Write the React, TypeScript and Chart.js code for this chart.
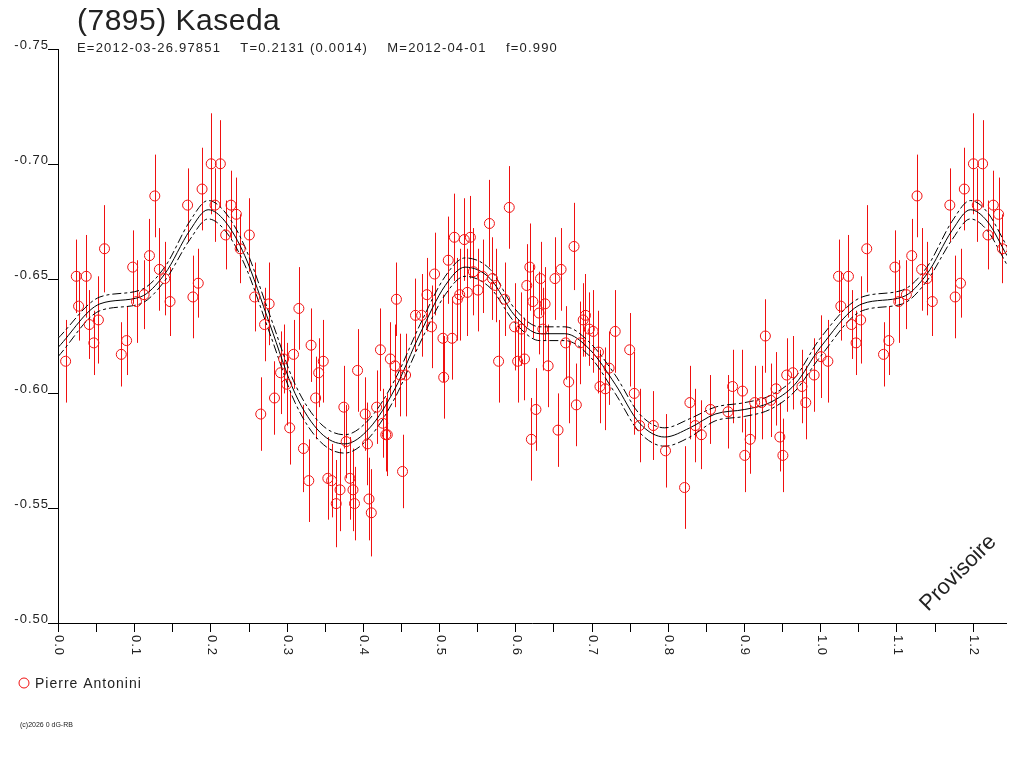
import React, { useEffect, useRef } from "react";
import { Chart, registerables } from "chart.js";
Chart.register(...registerables);

const title = "(7895) Kaseda";
const subtitle = "E=2012-03-26.97851    T=0.2131 (0.0014)    M=2012-04-01    f=0.990";
const observer = "Pierre Antonini";
const xTicks = [0, 0.1, 0.2, 0.3, 0.4, 0.5, 0.6, 0.7, 0.8, 0.9, 1.0, 1.1, 1.2];
const yTicks = [-0.75, -0.7, -0.65, -0.6, -0.55, -0.5];

// [phase, magnitude, error]
const obs: number[][] = [
  [0.010,-0.614,0.018],[0.024,-0.651,0.016],[0.027,-0.638,0.015],[0.037,-0.651,0.018],[0.041,-0.630,0.015],
  [0.047,-0.622,0.014],[0.053,-0.632,0.019],[0.061,-0.663,0.019],[0.083,-0.617,0.014],[0.090,-0.623,0.015],
  [0.098,-0.655,0.016],[0.103,-0.640,0.018],[0.113,-0.643,0.015],[0.120,-0.660,0.016],[0.127,-0.686,0.018],
  [0.133,-0.654,0.018],[0.140,-0.650,0.016],[0.147,-0.640,0.015],[0.170,-0.682,0.016],[0.177,-0.642,0.018],
  [0.184,-0.648,0.015],[0.189,-0.689,0.018],[0.201,-0.700,0.022],[0.206,-0.682,0.016],[0.213,-0.700,0.019],
  [0.220,-0.669,0.015],[0.227,-0.682,0.015],[0.234,-0.678,0.016],[0.239,-0.663,0.015],[0.251,-0.669,0.016],
  [0.258,-0.642,0.015],[0.266,-0.591,0.016],[0.271,-0.630,0.016],[0.277,-0.639,0.018],[0.284,-0.598,0.016],
  [0.292,-0.609,0.018],[0.296,-0.615,0.015],[0.300,-0.604,0.018],[0.304,-0.585,0.016],[0.309,-0.617,0.015],
  [0.316,-0.637,0.018],[0.322,-0.576,0.019],[0.329,-0.562,0.018],[0.332,-0.621,0.016],[0.338,-0.598,0.018],
  [0.342,-0.609,0.015],[0.348,-0.614,0.018],[0.354,-0.563,0.018],[0.359,-0.562,0.016],[0.365,-0.552,0.019],
  [0.370,-0.558,0.018],[0.375,-0.594,0.018],[0.378,-0.579,0.016],[0.383,-0.563,0.018],[0.387,-0.558,0.018],
  [0.389,-0.552,0.016],[0.393,-0.610,0.018],[0.403,-0.591,0.016],[0.406,-0.578,0.018],[0.408,-0.554,0.018],
  [0.411,-0.548,0.019],[0.418,-0.594,0.016],[0.423,-0.619,0.018],[0.426,-0.587,0.015],[0.430,-0.582,0.016],
  [0.432,-0.582,0.018],[0.436,-0.615,0.016],[0.442,-0.612,0.018],[0.444,-0.641,0.016],[0.449,-0.608,0.018],
  [0.452,-0.566,0.016],[0.456,-0.608,0.018],[0.469,-0.634,0.016],[0.477,-0.634,0.018],[0.484,-0.643,0.016],
  [0.490,-0.629,0.018],[0.494,-0.652,0.018],[0.505,-0.624,0.019],[0.506,-0.607,0.018],[0.512,-0.658,0.019],
  [0.517,-0.624,0.018],[0.520,-0.668,0.019],[0.524,-0.641,0.018],[0.527,-0.643,0.020],[0.533,-0.667,0.018],
  [0.537,-0.644,0.019],[0.541,-0.668,0.018],[0.545,-0.653,0.019],[0.551,-0.645,0.018],[0.557,-0.651,0.016],
  [0.566,-0.674,0.019],[0.570,-0.650,0.018],[0.574,-0.647,0.016],[0.578,-0.614,0.018],[0.586,-0.641,0.016],
  [0.592,-0.681,0.018],[0.599,-0.629,0.019],[0.603,-0.614,0.018],[0.608,-0.628,0.016],[0.612,-0.615,0.018],
  [0.615,-0.647,0.018],[0.619,-0.655,0.019],[0.621,-0.580,0.018],[0.623,-0.640,0.016],[0.627,-0.593,0.018],
  [0.631,-0.635,0.018],[0.633,-0.650,0.016],[0.636,-0.628,0.018],[0.639,-0.639,0.016],[0.643,-0.612,0.018],
  [0.652,-0.650,0.018],[0.656,-0.584,0.016],[0.660,-0.654,0.018],[0.666,-0.622,0.016],[0.670,-0.605,0.018],
  [0.677,-0.664,0.019],[0.680,-0.595,0.018],[0.685,-0.622,0.018],[0.689,-0.632,0.016],[0.692,-0.634,0.018],
  [0.697,-0.628,0.016],[0.702,-0.627,0.018],[0.709,-0.618,0.018],[0.711,-0.603,0.016],[0.718,-0.602,0.018],
  [0.723,-0.611,0.016],[0.731,-0.627,0.018],[0.750,-0.619,0.016],[0.756,-0.600,0.018],[0.763,-0.586,0.016],
  [0.781,-0.586,0.015],[0.797,-0.575,0.016],[0.822,-0.559,0.018],[0.829,-0.596,0.016],[0.836,-0.586,0.016],
  [0.844,-0.582,0.015],[0.856,-0.593,0.015],[0.879,-0.592,0.016],[0.885,-0.603,0.016],[0.898,-0.601,0.018],
  [0.901,-0.573,0.016],[0.908,-0.580,0.015],[0.914,-0.596,0.016],[0.923,-0.596,0.016],[0.928,-0.625,0.016],
  [0.935,-0.597,0.016],[0.942,-0.602,0.016],[0.947,-0.581,0.015],[0.951,-0.573,0.016],[0.956,-0.608,0.016],
  [0.964,-0.609,0.016],[0.976,-0.603,0.016],[0.981,-0.596,0.016],[0.992,-0.608,0.016],[1.001,-0.616,0.018],
];

const curvePhase = [0,0.055,0.108,0.140,0.173,0.197,0.219,0.245,0.278,0.311,0.344,0.376,0.409,0.442,0.475,0.508,0.534,0.567,0.599,0.632,0.665,0.698,0.731,0.763,0.796,0.829,0.862,0.901,0.934,0.967,1.0,1.055,1.108,1.140,1.173,1.197,1.219,1.245];
const curveMag = [-0.620,-0.639,-0.642,-0.652,-0.671,-0.680,-0.675,-0.660,-0.630,-0.600,-0.583,-0.578,-0.585,-0.602,-0.626,-0.647,-0.655,-0.650,-0.634,-0.626,-0.626,-0.619,-0.604,-0.587,-0.581,-0.585,-0.591,-0.593,-0.596,-0.604,-0.620,-0.639,-0.642,-0.652,-0.671,-0.680,-0.675,-0.660];
const bandHalf = [0.004,0.003,0.003,0.003,0.004,0.004,0.004,0.004,0.004,0.004,0.004,0.004,0.004,0.004,0.004,0.004,0.004,0.004,0.003,0.003,0.003,0.003,0.004,0.004,0.004,0.004,0.003,0.003,0.003,0.003,0.004,0.003,0.003,0.003,0.004,0.004,0.004,0.004];

const RED = "#f01010";
const FONT = "'Liberation Sans', Arial, sans-serif";

export default function App() {
  const ref = useRef<HTMLCanvasElement>(null);
  useEffect(() => {
    document.body.style.margin = "0";
    const pts = obs.map(o => ({ x: o[0], y: o[1], e: o[2] }));
    obs.filter(o => o[0] < 0.25).forEach(o => pts.push({ x: o[0] + 1, y: o[1], e: o[2] }));
    const mk = (arr: number[]) => curvePhase.map((p, i) => ({ x: p, y: arr[i] }));
    const upper = curveMag.map((v, i) => v - bandHalf[i]);
    const lower = curveMag.map((v, i) => v + bandHalf[i]);
    const line = (data: any, dash: number[]) => ({
      type: "line" as const, data, borderColor: "#000", borderWidth: 1, borderDash: dash,
      pointRadius: 0, tension: 0.4, cubicInterpolationMode: "monotone" as const, fill: false,
    });
    const plugin = {
      id: "deco",
      beforeDatasetsDraw(c: any) {
        const ctx = c.ctx, xs = c.scales.x, ys = c.scales.y;
        ctx.save();
        ctx.beginPath(); ctx.rect(c.chartArea.left, c.chartArea.top, c.chartArea.right - c.chartArea.left, c.chartArea.bottom - c.chartArea.top); ctx.clip();
        ctx.strokeStyle = RED; ctx.lineWidth = 1;
        pts.forEach(p => {
          const x = Math.round(xs.getPixelForValue(p.x)) + 0.5;
          ctx.beginPath();
          ctx.moveTo(x, ys.getPixelForValue(p.y - p.e));
          ctx.lineTo(x, ys.getPixelForValue(p.y + p.e));
          ctx.stroke();
        });
        ctx.restore();
      },
      afterDraw(c: any) {
        const ctx = c.ctx, xs = c.scales.x, ys = c.scales.y, a = c.chartArea;
        ctx.save();
        ctx.strokeStyle = "#000"; ctx.lineWidth = 1; ctx.fillStyle = "#222";
        ctx.beginPath();
        ctx.moveTo(a.left + 0.5, a.top); ctx.lineTo(a.left + 0.5, a.bottom + 0.5); ctx.lineTo(a.right, a.bottom + 0.5);
        ctx.stroke();
        ctx.font = `13px ${FONT}`;
        (ctx as any).letterSpacing = "1px";
        yTicks.forEach(v => {
          const y = Math.round(ys.getPixelForValue(v)) + 0.5;
          ctx.beginPath(); ctx.moveTo(a.left - 10, y); ctx.lineTo(a.left, y); ctx.stroke();
          ctx.textAlign = "right"; ctx.textBaseline = "alphabetic";
          ctx.fillText(v.toFixed(2), a.left - 9, y - 1);
        });
        for (let v = 0; v <= 1.25; v += 0.05) {
          const x = Math.round(xs.getPixelForValue(v)) + 0.5;
          if (x > a.right + 1) break;
          ctx.beginPath(); ctx.moveTo(x, a.bottom); ctx.lineTo(x, a.bottom + 9); ctx.stroke();
        }
        xTicks.forEach(v => {
          const x = xs.getPixelForValue(v);
          ctx.save(); ctx.translate(x + 1, a.bottom + 12); ctx.rotate(Math.PI / 2);
          ctx.textAlign = "left"; ctx.textBaseline = "middle";
          ctx.fillText(v.toFixed(1), 0, 0); ctx.restore();
        });
        ctx.textAlign = "left"; ctx.textBaseline = "alphabetic";
        ctx.font = `13px ${FONT}`; (ctx as any).letterSpacing = "1.2px"; ctx.fillText(subtitle, 77, 52);
        (ctx as any).letterSpacing = "0.5px";
        ctx.font = `30px ${FONT}`; ctx.fillText(title, 77, 30);
        ctx.strokeStyle = RED; ctx.beginPath(); ctx.arc(24, 683, 5, 0, Math.PI * 2); ctx.stroke();
        (ctx as any).letterSpacing = "1px";
        ctx.font = `14px ${FONT}`; ctx.fillText(observer, 35, 688);
        (ctx as any).letterSpacing = "0px";
        ctx.font = `7px ${FONT}`; ctx.fillText("(c)2026 0 dG-RB", 20, 727);
        ctx.save(); ctx.translate(928, 612); ctx.rotate(-Math.PI / 4);
        ctx.font = `22px ${FONT}`; ctx.fillText("Provisoire", 0, 0); ctx.restore();
        ctx.restore();
      },
    };
    const chart = new Chart(ref.current!, {
      type: "scatter",
      data: {
        datasets: [
          { type: "scatter", data: pts, pointStyle: "circle", pointRadius: 5, borderColor: RED, backgroundColor: "rgba(0,0,0,0)", borderWidth: 1 } as any,
          line(mk(curveMag), []),
          line(mk(upper), [9, 3, 3, 3]),
          line(mk(lower), [9, 3, 3, 3]),
        ],
      },
      options: {
        animation: false, responsive: false, events: [],
        layout: { padding: { left: 58, top: 49, right: 17, bottom: 145 } },
        plugins: { legend: { display: false }, tooltip: { enabled: false } },
        scales: {
          x: { type: "linear", min: 0, max: 1.245, display: false },
          y: { type: "linear", min: -0.75, max: -0.5, reverse: true, display: false },
        },
      },
      plugins: [plugin],
    });
    return () => chart.destroy();
  }, []);
  return <canvas ref={ref} width={1024} height={768} style={{ display: "block" }} />;
}
